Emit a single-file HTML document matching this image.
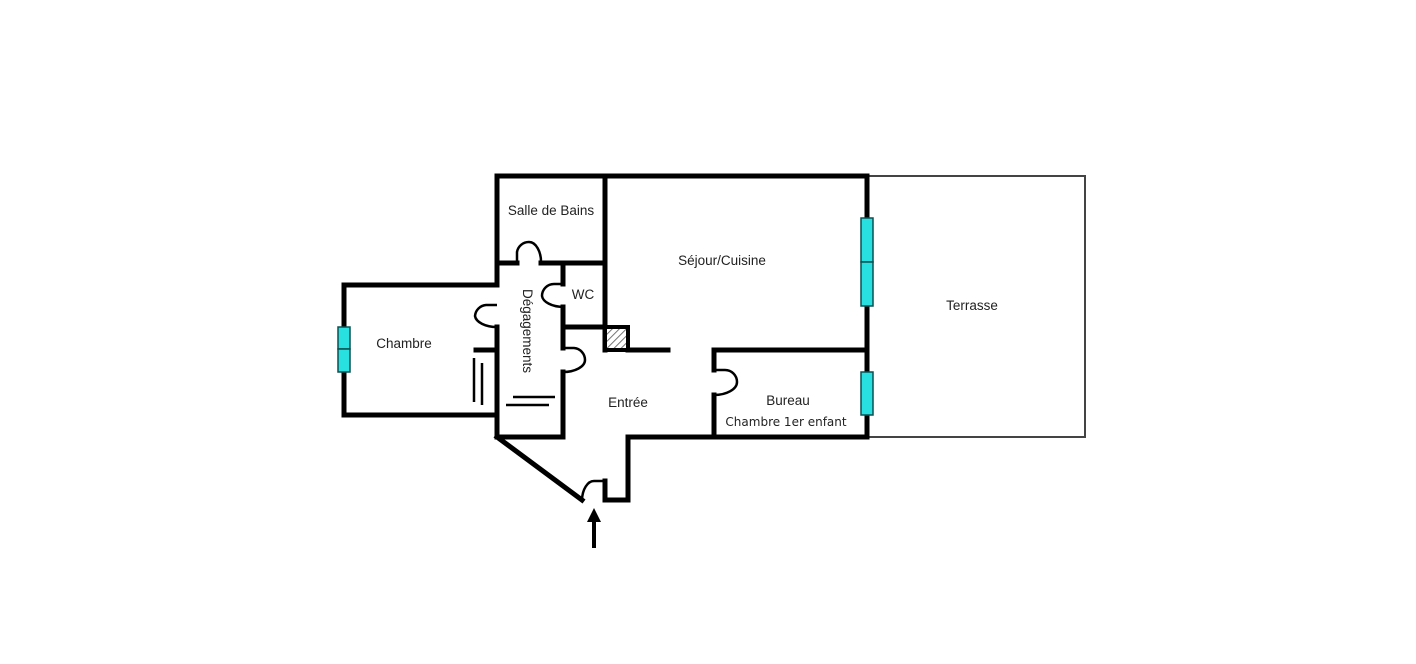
<!DOCTYPE html>
<html><head><meta charset="utf-8"><style>html,body{margin:0;padding:0;background:#fff}svg{display:block}</style></head>
<body>
<svg width="1416" height="664" viewBox="0 0 1416 664" xmlns="http://www.w3.org/2000/svg">
<defs><pattern id="h" width="5" height="5" patternUnits="userSpaceOnUse" patternTransform="rotate(45)"><rect width="5" height="5" fill="#fff"/><line x1="0" y1="0" x2="0" y2="5" stroke="#777" stroke-width="2"/></pattern></defs>
<rect x="867" y="176" width="218" height="261" fill="none" stroke="#444" stroke-width="2"/>
<g stroke="#000" stroke-width="5" fill="none" stroke-linecap="square">
<path d="M497 176 H867 V437 H628 V500 H605 V481"/>
<path d="M605 176 V350"/>
<path d="M497 263 H517 M541 263 H605"/>
<path d="M563 263 V284 M563 307 V327 H605"/>
<path d="M628 350 H668"/>
<path d="M497 176 V285 M497 327 V437 H563 V372 M563 348 V327"/>
<path d="M497 285 H344 V415 H497"/>
<path d="M476 350 H497"/>
<path d="M497 437 L582 500"/>
<path d="M714 437 V395 M714 370 V350 H867"/>
</g>
<rect x="605" y="327" width="23" height="23" fill="url(#h)" stroke="#000" stroke-width="4"/>
<g stroke="#000" stroke-width="2.5" fill="none">
<path d="M517 263 V252 A12 12 0 0 1 529 242 A12 20 0 0 1 541 263"/>
<path d="M563 284 H554 A12 12 0 0 0 542 296 A22 12 0 0 0 563 307"/>
<path d="M497 305 H486 A12 12 0 0 0 475 316 A22 12 0 0 0 497 327"/>
<path d="M563 348 H574 A12 12 0 0 1 585 360 A22 12 0 0 1 563 372"/>
<path d="M714 370 H725 A12 12 0 0 1 737 382 A23 13 0 0 1 714 395"/>
<path d="M582 500 A12 20 0 0 1 594 481 H605"/>
<path d="M474 358 V402 M482 363 V405"/>
<path d="M513 397 H555 M506 405 H549"/>
</g>
<g fill="#28e0e0" stroke="#0b5050" stroke-width="1.5">
<rect x="861" y="218" width="12" height="44"/><rect x="861" y="262" width="12" height="44"/>
<rect x="861" y="372" width="12" height="43"/>
<rect x="338" y="327" width="12" height="22"/><rect x="338" y="349" width="12" height="23"/>
</g>
<path d="M594 548 V520" stroke="#000" stroke-width="4"/>
<path d="M587 522 L594 508 L601 522 Z" fill="#000"/>
<g font-family="Liberation Sans, sans-serif" font-size="13.5" fill="#222" text-anchor="middle">
<text x="551" y="215">Salle de Bains</text>
<text x="722" y="265">Séjour/Cuisine</text>
<text x="583" y="299">WC</text>
<text x="404" y="348">Chambre</text>
<text x="628" y="407">Entrée</text>
<text x="788" y="405">Bureau</text>
<text x="972" y="310">Terrasse</text>
<text transform="translate(523 331) rotate(90)">Dégagements</text>
<text x="786" y="426" font-family="DejaVu Sans, sans-serif" font-size="12">Chambre 1er enfant</text>
</g>
</svg>
</body></html>
